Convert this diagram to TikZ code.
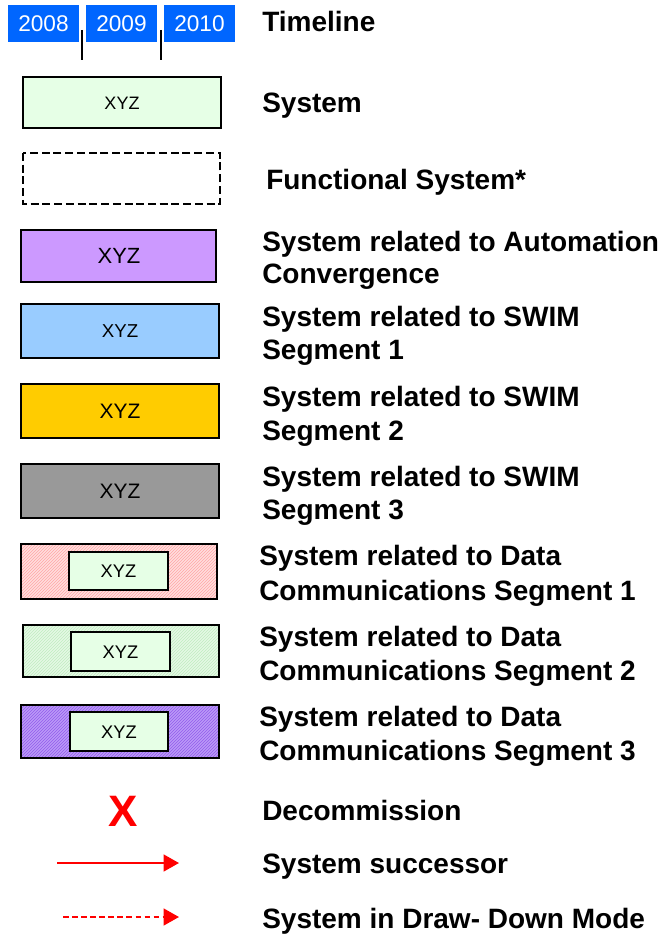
\documentclass[tikz,border=0pt]{standalone}
\usepackage{fontspec}
\setmainfont{Liberation Sans}
\usetikzlibrary{arrows.meta}
\definecolor{yearblue}{HTML}{0066FF}
\definecolor{sysgreen}{HTML}{E6FFE6}
\definecolor{autopurple}{HTML}{CC99FF}
\definecolor{swimblue}{HTML}{99CCFF}
\definecolor{swimorange}{HTML}{FFCC00}
\definecolor{swimgray}{HTML}{999999}
\definecolor{pinkbg}{HTML}{FFE6E6}
\definecolor{hatchred}{HTML}{FFB0B0}
\definecolor{greenbg}{HTML}{EAFAEA}
\definecolor{hatchgreen}{HTML}{C6EEC6}
\definecolor{purplebg}{HTML}{D6C2FF}
\definecolor{hatchpurple}{HTML}{9966EE}
\begin{document}
\begin{tikzpicture}[x=0.75pt,y=-0.75pt,
  yearbox/.style={fill=yearblue,text=white,inner sep=0pt,minimum width=53.25pt,minimum height=27.5pt,font=\fontsize{17}{17}\selectfont},
  sysbox/.style={draw=black,line width=1pt,inner sep=0pt},
  lbl/.style={anchor=base west,font=\bfseries\fontsize{21}{21}\selectfont,inner sep=0pt},
  xyz/.style={font=\fontsize{#1}{#1}\selectfont,inner sep=0pt},
  arr/.style={draw=red,line width=1.7pt,-{Triangle[length=11.5pt,width=12.5pt]}}]
\useasboundingbox (0,0) rectangle (665,934);
% timeline
\node[yearbox] (y8) at (43.5,23.5) {2008};
\node[yearbox] (y9) at (121.5,23.5) {2009};
\node[yearbox] (y10) at (199.5,23.5) {2010};
\coordinate (t1a) at (82,30); \coordinate (t1b) at (82,60);
\coordinate (t2a) at (161,30); \coordinate (t2b) at (161,60);
\draw[line width=1.3pt] (t1a) -- (t1b);
\draw[line width=1.3pt] (t2a) -- (t2b);
\node[lbl] (lt) at (262,32) {Timeline};
% system
\draw[sysbox,fill=sysgreen] (23,77) rectangle (221,128);
\node[xyz=13.5] (s1) at (122,103) {XYZ};
\node[lbl] (ls) at (262,113) {System};
% functional
\draw[black,line width=1.4pt,dash pattern=on 6pt off 2.8pt] (23,153) rectangle (220,204);
\node[lbl] (lf) at (266,190) {Functional System*};
% automation
\draw[sysbox,fill=autopurple] (21,230) rectangle (216,282);
\node[xyz=16.5] (s2) at (119,256) {XYZ};
\node[lbl] (la1) at (262,252) {System related to Automation};
\node[lbl] (la2) at (262,283) {Convergence};
% swim 1
\draw[sysbox,fill=swimblue] (21,304) rectangle (219,358);
\node[xyz=14] (s3) at (120,331) {XYZ};
\node[lbl] (lsw1a) at (262,326) {System related to SWIM};
\node[lbl] (lsw1b) at (262,359) {Segment 1};
% swim 2
\draw[sysbox,fill=swimorange] (21,384) rectangle (219,438);
\node[xyz=15.7] (s4) at (120,411) {XYZ};
\node[lbl] (lsw2a) at (262,406) {System related to SWIM};
\node[lbl] (lsw2b) at (262,440) {Segment 2};
% swim 3
\draw[sysbox,fill=swimgray] (21,464) rectangle (219,518);
\node[xyz=15.7] (s5) at (120,491) {XYZ};
\node[lbl] (lsw3a) at (262,486) {System related to SWIM};
\node[lbl] (lsw3b) at (262,519) {Segment 3};
% data comm 1
\begin{scope}
\clip (21,544) rectangle (217,599);
\fill[pinkbg] (21,544) rectangle (217,599);
\foreach \i in {0,3,...,260} {\draw[hatchred,line width=0.6pt] (\i-40,599) -- ++(60,-60);}
\end{scope}
\draw[sysbox] (21,544) rectangle (217,599);
\draw[sysbox,fill=sysgreen] (69,552) rectangle (168,590);
\node[xyz=13.7] (s6) at (118.5,571) {XYZ};
\node[lbl] (ld1a) at (259,565) {System related to Data};
\node[lbl] (ld1b) at (259,600) {Communications Segment 1};
% data comm 2
\begin{scope}
\clip (23,625) rectangle (219,677);
\fill[greenbg] (23,625) rectangle (219,677);
\foreach \i in {0,3,...,260} {\draw[hatchgreen,line width=0.6pt] (\i-40,677) -- ++(60,-60);}
\end{scope}
\draw[sysbox] (23,625) rectangle (219,677);
\draw[sysbox,fill=sysgreen] (71,632) rectangle (170,671);
\node[xyz=13.7] (s7) at (120.5,652) {XYZ};
\node[lbl] (ld2a) at (259,646) {System related to Data};
\node[lbl] (ld2b) at (259,680) {Communications Segment 2};
% data comm 3
\begin{scope}
\clip (21,705) rectangle (219,758);
\fill[purplebg] (21,705) rectangle (219,758);
\foreach \i in {0,3,...,260} {\draw[hatchpurple,line width=1pt] (\i-40,758) -- ++(60,-60);}
\end{scope}
\draw[sysbox] (21,705) rectangle (219,758);
\draw[sysbox,fill=sysgreen] (70,712) rectangle (168,751);
\node[xyz=13.7] (s8) at (119,732) {XYZ};
\node[lbl] (ld3a) at (259,726) {System related to Data};
\node[lbl] (ld3b) at (259,760) {Communications Segment 3};
% decommission
\node[text=red,font=\bfseries\fontsize{33}{33}\selectfont,inner sep=0pt] (x) at (123,811) {X};
\node[lbl] (ldc) at (262,820) {Decommission};
% arrows
\coordinate (a1) at (57,863); \coordinate (a2) at (179,863);
\draw[arr] (a1) -- (a2);
\node[lbl] (lsucc) at (262,873) {System successor};
\coordinate (b1) at (63,917); \coordinate (b2) at (179,917);
\draw[arr,dash pattern=on 4.3pt off 2.5pt] (b1) -- (b2);
\node[lbl] (ldd) at (262,928) {System in Draw- Down Mode};
\end{tikzpicture}
\end{document}
